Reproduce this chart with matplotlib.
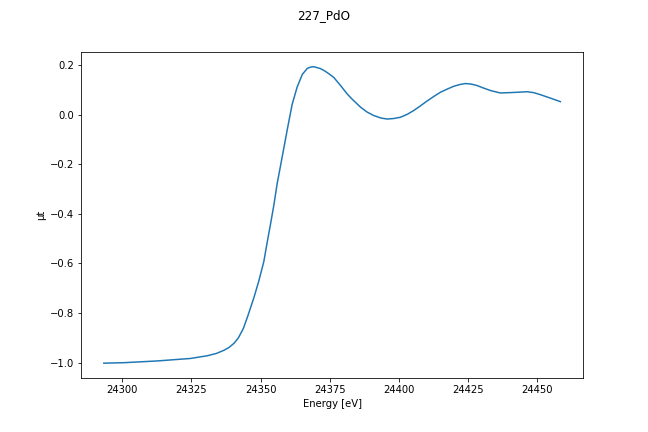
import numpy as np
import matplotlib
matplotlib.use('Agg')
import matplotlib.pyplot as plt

title = '227_PdO'
energy = [24293.4, 24300.7, 24312.7, 24324.7, 24330.8, 24334.0, 24336.8,
          24338.7, 24340.4, 24342.0, 24343.8, 24345.4, 24347.6, 24349.4,
          24351.2, 24352.4, 24353.6, 24354.8, 24356.0, 24357.8, 24359.6,
          24361.4, 24363.2, 24365.1, 24366.9, 24368.0, 24369.2, 24371.7,
          24373.3, 24375.0, 24376.5, 24378.9, 24381.3, 24383.0, 24386.1,
          24388.5, 24390.9, 24393.5, 24395.7, 24398.1, 24400.5, 24403.0,
          24405.3, 24407.5, 24410.2, 24413.0, 24415.0, 24417.5, 24419.8,
          24422.0, 24424.0, 24426.0, 24428.2, 24430.5, 24433.0, 24436.6,
          24441.4, 24446.3, 24448.8, 24451.1, 24454.5, 24458.3]
mu = [-1.002, -1.000, -0.993, -0.983, -0.972, -0.963, -0.950,
      -0.938, -0.922, -0.900, -0.862, -0.812, -0.738, -0.670,
      -0.592, -0.515, -0.442, -0.366, -0.279, -0.172, -0.064,
      0.040, 0.110, 0.162, 0.186, 0.191, 0.193, 0.185,
      0.175, 0.162, 0.149, 0.117, 0.083, 0.063, 0.030,
      0.010, -0.004, -0.014, -0.018, -0.016, -0.011, 0.001,
      0.016, 0.033, 0.055, 0.076, 0.090, 0.103, 0.114,
      0.121, 0.125, 0.123, 0.117, 0.107, 0.097, 0.087,
      0.089, 0.092, 0.088, 0.080, 0.067, 0.052]

fig, ax = plt.subplots(figsize=(9, 6), dpi=72)
ax.plot(energy, mu, color='#1f77b4', linewidth=1.5)
ax.set_xlabel('Energy [eV]')
ax.set_ylabel('μt')
fig.suptitle(title)
plt.subplots_adjust(left=0.125, right=0.9, top=0.88, bottom=0.125)
plt.savefig('out.png', dpi=72)
